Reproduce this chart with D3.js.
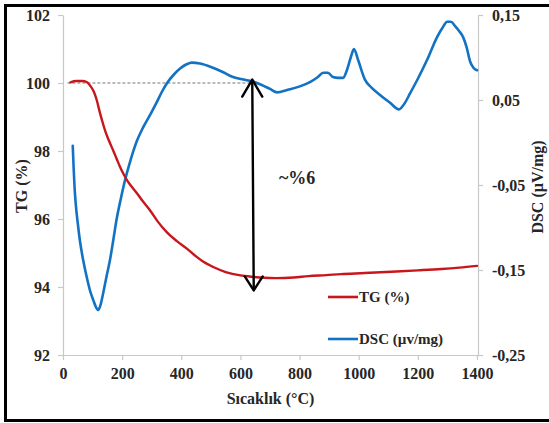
<!DOCTYPE html>
<html>
<head>
<meta charset="utf-8">
<script src="https://cdn.jsdelivr.net/npm/d3@7"></script>
<style>
  html, body { margin: 0; padding: 0; background: #fff; }
  svg { display: block; }
  text { font-family: "Liberation Serif", "Times New Roman", serif; font-weight: bold; fill: #262626; }
</style>
</head>
<body>
<svg id="chart" width="549" height="423"></svg>
<script>
// Thermogravimetric (TG) mass curve, % of initial mass
const tgTemp = [25, 45, 65, 80, 92, 104, 114, 125, 136, 145, 157, 169, 181, 193, 206, 220, 235, 250, 270, 294, 320, 350, 385, 420, 450, 475, 510, 550, 600, 640, 680, 720, 780, 830, 890, 940, 1020, 1110, 1200, 1280, 1340, 1400];
const tgValue = [100.02, 100.06, 100.06, 100.03, 99.92, 99.75, 99.5, 99.12, 98.78, 98.53, 98.27, 98.03, 97.78, 97.53, 97.3, 97.09, 96.92, 96.76, 96.52, 96.26, 95.93, 95.62, 95.35, 95.12, 94.9, 94.74, 94.58, 94.44, 94.34, 94.3, 94.27, 94.26, 94.28, 94.32, 94.35, 94.38, 94.41, 94.45, 94.49, 94.53, 94.57, 94.62];

// Differential scanning calorimetry (DSC) signal, µV/mg
const dscTemp = [33, 36, 39, 43, 50, 57, 68, 80, 92, 103, 112, 119, 127, 136, 147, 159, 170, 181, 195, 210, 224, 237, 250, 267, 284, 300, 318, 335, 352, 375, 396, 418, 436, 463, 507, 540, 575, 610, 639, 670, 700, 724, 760, 801, 835, 862, 880, 896, 913, 930, 947, 960, 973, 984, 998, 1021, 1045, 1072, 1105, 1136, 1155, 1174, 1200, 1231, 1265, 1285, 1299, 1312, 1326, 1340, 1353, 1365, 1377, 1388, 1400];
const dscValue = [-0.004, -0.03, -0.052, -0.072, -0.095, -0.115, -0.138, -0.158, -0.175, -0.186, -0.194, -0.197, -0.191, -0.177, -0.158, -0.138, -0.115, -0.091, -0.067, -0.044, -0.026, -0.011, 0.002, 0.015, 0.026, 0.036, 0.048, 0.06, 0.07, 0.08, 0.087, 0.092, 0.094, 0.093, 0.088, 0.083, 0.077, 0.074, 0.072, 0.068, 0.063, 0.059, 0.062, 0.066, 0.071, 0.077, 0.082, 0.082, 0.077, 0.076, 0.076, 0.085, 0.1, 0.11, 0.097, 0.074, 0.064, 0.056, 0.047, 0.039, 0.046, 0.058, 0.075, 0.097, 0.124, 0.136, 0.142, 0.142, 0.137, 0.131, 0.124, 0.112, 0.095, 0.088, 0.085];

// Axis ticks
const xTicks = [0, 200, 400, 600, 800, 1000, 1200, 1400];
const tgTicks = [92, 94, 96, 98, 100, 102];
const dscTicks = [-0.25, -0.15, -0.05, 0.05, 0.15];

// Mass-loss annotation: from the initial plateau down to the minimum
const lossTemp = [640, 645];
const lossRange = [100.1, 93.9];
const lossLabel = "~%6";

const legendItems = [
  { name: "TG (%)", color: "#c8161d" },
  { name: "DSC (µv/mg)", color: "#1273c4" }
];

const svg = d3.select("#chart");
const plotLeft = 63, plotRight = 478, plotTop = 15, plotBottom = 355;

const x = d3.scaleLinear().domain([0, 1400]).range([plotLeft, plotRight - 1]);
const yTG = d3.scaleLinear().domain([92, 102]).range([plotBottom, plotTop]);
const yDSC = d3.scaleLinear().domain([-0.25, 0.15]).range([plotBottom, plotTop]);

// Outer frame
svg.append("rect")
  .attr("x", 5.5).attr("y", 5.5).attr("width", 560).attr("height", 415)
  .attr("fill", "none").attr("stroke", "#000").attr("stroke-width", 3);

// Decimal comma, plain hyphen for negatives
const fmtComma = d => d3.format(".2f")(d).replace(".", ",").replace("\u2212", "-");

function styleAxis(g) {
  g.select(".domain").attr("stroke", "#c8c8c8").attr("stroke-width", 1.2);
  g.selectAll(".tick line").attr("stroke", "#c8c8c8").attr("stroke-width", 1.2);
  g.selectAll(".tick text").style("font-size", "16px").attr("fill", "#262626");
}

svg.append("g")
  .attr("transform", `translate(0,${plotBottom})`)
  .call(d3.axisBottom(x).tickValues(xTicks).tickSize(5).tickSizeOuter(0).tickPadding(8).tickFormat(d3.format("d")))
  .call(styleAxis);

svg.append("g")
  .attr("transform", `translate(${plotLeft},0)`)
  .call(d3.axisLeft(yTG).tickValues(tgTicks).tickSize(5).tickSizeOuter(0).tickPadding(8).tickFormat(d3.format("d")))
  .call(styleAxis);

svg.append("g")
  .attr("transform", `translate(${plotRight},0)`)
  .call(d3.axisRight(yDSC).tickValues(dscTicks).tickSize(5).tickSizeOuter(0).tickPadding(9).tickFormat(fmtComma))
  .call(styleAxis);

// Axis titles
svg.append("text")
  .attr("x", (plotLeft + plotRight) / 2).attr("y", 404)
  .attr("text-anchor", "middle").style("font-size", "16px")
  .text("Sıcaklık (°C)");

svg.append("text")
  .attr("transform", `translate(21,186) rotate(-90)`)
  .attr("text-anchor", "middle").attr("dominant-baseline", "central").style("font-size", "16px")
  .text("TG (%)");

svg.append("text")
  .attr("transform", `translate(537,187) rotate(-90)`)
  .attr("text-anchor", "middle").attr("dominant-baseline", "central").style("font-size", "16px")
  .text("DSC (µV/mg)");

// Dashed reference at the initial mass
svg.append("line")
  .attr("x1", x(15)).attr("x2", x(645))
  .attr("y1", yTG(100)).attr("y2", yTG(100))
  .attr("stroke", "#666").attr("stroke-width", 0.9).attr("stroke-dasharray", "3,2");

// Curves
const tgLine = d3.line().x(d => x(d[0])).y(d => yTG(d[1])).curve(d3.curveMonotoneX);
const dscLine = d3.line().x(d => x(d[0])).y(d => yDSC(d[1])).curve(d3.curveMonotoneX);

svg.append("path")
  .datum(d3.zip(dscTemp, dscValue))
  .attr("d", dscLine)
  .attr("fill", "none").attr("stroke", legendItems[1].color).attr("stroke-width", 2.6)
  .attr("stroke-linejoin", "round").attr("stroke-linecap", "round");

svg.append("path")
  .datum(d3.zip(tgTemp, tgValue))
  .attr("d", tgLine)
  .attr("fill", "none").attr("stroke", legendItems[0].color).attr("stroke-width", 2.4)
  .attr("stroke-linejoin", "round").attr("stroke-linecap", "round");

// Double-headed arrow marking the mass loss
const ax1 = x(lossTemp[0]), ay1 = yTG(lossRange[0]);
const ax2 = x(lossTemp[1]), ay2 = yTG(lossRange[1]);
const arrow = svg.append("g").attr("stroke", "#000").attr("stroke-width", 2.4).attr("fill", "none")
  .attr("stroke-linecap", "round").attr("stroke-linejoin", "round");
arrow.append("line").attr("x1", ax1).attr("y1", ay1 + 1).attr("x2", ax2).attr("y2", ay2 - 1);
arrow.append("path").attr("d", `M${ax1 - 10},${ay1 + 17}L${ax1},${ay1}L${ax1 + 10},${ay1 + 17}`);
arrow.append("path").attr("d", `M${ax2 - 9},${ay2 - 14}L${ax2},${ay2}L${ax2 + 9},${ay2 - 14}`);

svg.append("text")
  .attr("x", 279).attr("y", 184)
  .style("font-size", "18px")
  .text(lossLabel);

// Legend
const legend = svg.append("g");
legendItems.forEach((item, i) => {
  const ly = 297 + i * 42;
  legend.append("line")
    .attr("x1", 328).attr("x2", 358).attr("y1", ly).attr("y2", ly)
    .attr("stroke", item.color).attr("stroke-width", 2.6);
  legend.append("text")
    .attr("x", 359).attr("y", ly + 5)
    .style("font-size", "15px")
    .text(item.name);
});
</script>
</body>
</html>
